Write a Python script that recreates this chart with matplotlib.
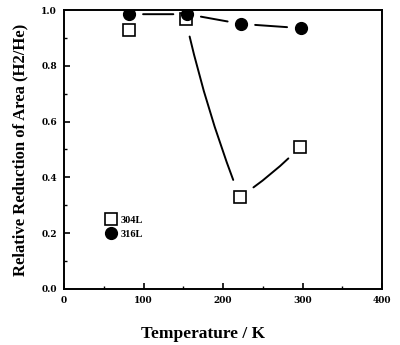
import matplotlib.pyplot as plt
import matplotlib as mpl

mpl.rcParams.update({
    'font.family': 'Liberation Serif',
    'font.weight': 'bold',
})

# temperature (K) and relative reduction of area (H2/He)
temp_304 = [82, 153, 221, 297]
rra_304 = [0.93, 0.968, 0.33, 0.51]
temp_316 = [82, 155, 223, 298]
rra_316 = [0.985, 0.985, 0.95, 0.935]

fig = plt.figure(figsize=(4.0, 3.45), dpi=100)
ax = fig.add_axes([0.16, 0.163, 0.795, 0.808])


def conectar(ax, p1, p2, rad=0.0, gap=9):
    # hand-drawn style connector with a gap near each marker
    ax.annotate('', xy=p2, xytext=p1,
                arrowprops=dict(arrowstyle='-', color='black', lw=1.4,
                                connectionstyle=f'arc3,rad={rad}',
                                shrinkA=gap, shrinkB=gap))


# 316L: nearly flat trend
for i in range(len(temp_316) - 1):
    conectar(ax, (temp_316[i], rra_316[i]), (temp_316[i + 1], rra_316[i + 1]), gap=10)

# 304L: sharp drop then recovery
conectar(ax, (temp_304[1], rra_304[1]), (temp_304[2], rra_304[2]), rad=0.04, gap=13)
conectar(ax, (temp_304[2], rra_304[2]), (temp_304[3], rra_304[3]), rad=0.06, gap=12)

ax.plot(temp_304, rra_304, 's', ms=9, mfc='white', mec='black', mew=1.2,
        ls='none', label='304L', zorder=3)
ax.plot(temp_316, rra_316, 'o', ms=8.5, color='black', ls='none',
        label='316L', zorder=3)

ax.set_xlim(0, 400)
ax.set_ylim(0, 1.0)
ax.set_xticks([0, 100, 200, 300, 400])
ax.set_yticks([0.0, 0.2, 0.4, 0.6, 0.8, 1.0])
ax.set_yticklabels(['0.0', '0.2', '0.4', '0.6', '0.8', '1.0'])
ax.xaxis.set_minor_locator(mpl.ticker.MultipleLocator(50))
ax.yaxis.set_minor_locator(mpl.ticker.MultipleLocator(0.1))
ax.tick_params(which='both', direction='in', labelsize=6.5, pad=5)
ax.tick_params(which='major', length=4, width=1.2)
ax.tick_params(which='minor', length=2, width=1)
for lab in ax.get_xticklabels() + ax.get_yticklabels():
    lab.set_family('DejaVu Serif')
    lab.set_fontweight('bold')
for s in ax.spines.values():
    s.set_linewidth(1.4)

ax.set_xlabel('Temperature / K', fontsize=12.5, fontweight='bold')
ax.xaxis.set_label_coords(0.437, -0.135)
ax.set_ylabel('Relative Reduction of Area (H2/He)', fontsize=12,
              fontweight='bold', labelpad=9)

ax.legend(loc='center left', bbox_to_anchor=(0.1, 0.222), frameon=False,
          fontsize=7.5, handletextpad=0.3, labelspacing=0.45, handlelength=1.2)

plt.savefig('out.png', dpi=100)
